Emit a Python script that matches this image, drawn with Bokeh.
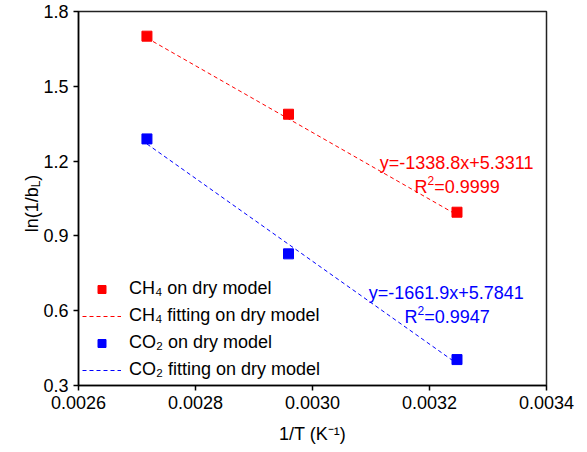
import math
from bokeh.plotting import figure
from bokeh.models import (Label, Legend, LegendItem, FixedTicker,
                          PrintfTickFormatter, Range1d)
from bokeh.embed import file_html
from bokeh.resources import INLINE

# ---------------- data ----------------
inv_T = [0.002717, 0.002959, 0.003247]          # 1/T (K^-1)
ch4_ln = [1.701, 1.388, 0.995]                   # ln(1/bL) CH4 on dry model
co2_ln = [1.289, 0.828, 0.404]                   # ln(1/bL) CO2 on dry model
ch4_slope, ch4_icpt, ch4_r2 = -1338.8, 5.3311, "0.9999"
co2_slope, co2_icpt, co2_r2 = -1661.9, 5.7841, "0.9947"
x_ticks = [0.0026, 0.0028, 0.0030, 0.0032, 0.0034]
y_ticks = [0.3, 0.6, 0.9, 1.2, 1.5, 1.8]
legend_labels = ["CH\u2084 on dry model", "CH\u2084 fitting on dry model",
                 "CO\u2082 on dry model", "CO\u2082 fitting on dry model"]
x_title = "1/T (K\u207b\u00b9)"

RED = "#FF0000"
BLUE = "#0000FF"
FONT = "Liberation Sans"

X0, X1 = 0.0026, 0.0034
Y0, Y1 = 0.3, 1.8
FL, FR, FT, FB = 78, 546, 11, 385   # frame edges in px

p = figure(width=587, height=452, frame_width=FR - FL, frame_height=FB - FT,
           min_border_left=FL, min_border_right=587 - FR, min_border_top=FT,
           min_border_bottom=452 - FB,
           x_range=Range1d(X0, X1), y_range=Range1d(Y0, Y1),
           output_backend="svg", toolbar_location=None)
p.background_fill_color = "white"
p.border_fill_color = "white"
p.grid.visible = False
p.outline_line_color = "#222222"
p.outline_line_width = 1.5

for ax, ticks, fmt in ((p.xaxis[0], x_ticks, "%.4f"), (p.yaxis[0], y_ticks, "%.1f")):
    ax.ticker = FixedTicker(ticks=ticks)
    ax.formatter = PrintfTickFormatter(format=fmt)
    ax.axis_line_color = "black"
    ax.axis_line_width = 1.5
    ax.major_tick_line_color = "black"
    ax.major_tick_line_width = 1.5
    ax.major_tick_out = 5
    ax.major_tick_in = 0
    ax.minor_tick_line_color = None
    ax.major_label_text_font = FONT
    ax.major_label_text_font_size = "18px"
    ax.major_label_text_color = "black"
    ax.major_label_standoff = 5

p.xaxis[0].axis_label = x_title
p.xaxis[0].axis_label_text_font = FONT
p.xaxis[0].axis_label_text_font_size = "18px"
p.xaxis[0].axis_label_text_font_style = "normal"
p.xaxis[0].axis_label_text_color = "black"
p.xaxis[0].axis_label_standoff = 12

# fitted lines
def fit(slope, icpt, xs):
    return [slope * x + icpt for x in xs]

fx = [inv_T[0], inv_T[-1]]
r_ch4_fit = p.line(fx, fit(ch4_slope, ch4_icpt, fx), line_color=RED, line_width=1,
                   line_dash="4 3")
r_co2_fit = p.line(fx, fit(co2_slope, co2_icpt, fx), line_color=BLUE, line_width=1,
                   line_dash="4 3")
r_ch4 = p.scatter(inv_T, ch4_ln, marker="square", size=10, fill_color=RED, line_color=RED)
r_co2 = p.scatter(inv_T, co2_ln, marker="square", size=10, fill_color=BLUE, line_color=BLUE)

legend = Legend(items=[
    LegendItem(label=legend_labels[0], renderers=[r_ch4]),
    LegendItem(label=legend_labels[1], renderers=[r_ch4_fit]),
    LegendItem(label=legend_labels[2], renderers=[r_co2]),
    LegendItem(label=legend_labels[3], renderers=[r_co2_fit]),
], location=(4, 5), padding=0, margin=0, spacing=6,
   glyph_width=39, glyph_height=20, label_height=20, label_standoff=8,
   label_text_font=FONT, label_text_font_size="18px", label_text_color="black",
   border_line_alpha=0, background_fill_alpha=0)
p.add_layout(legend, "center")

# ---------------- composed texts ----------------
W = {c: 556 for c in "0123456789"}
W.update({".": 278, "/": 278, "(": 333, ")": 333, " ": 278, "-": 333, "=": 584,
          "+": 584, "l": 222, "n": 556, "b": 556, "L": 556, "T": 611, "K": 667,
          "R": 722, "y": 500, "x": 500, "C": 722, "H": 722, "O": 778})

def tw(s, size):
    return sum(W.get(c, 556) for c in s) * size / 1000.0

def px2x(px):
    return X0 + (px - FL) / (FR - FL) * (X1 - X0)

def py2y(py):
    return Y1 - (py - FT) / (FB - FT) * (Y1 - Y0)

def compose(pieces, cx, base, color="black", vertical=False):
    # pieces: (text, font px, raise px, layout place)
    total = sum(tw(t, s) for t, s, d, pl in pieces)
    cur = cx - total / 2.0 if not vertical else cx + total / 2.0
    for t, s, d, pl in pieces:
        if not vertical:
            lab = Label(x=px2x(cur), y=py2y(base - d), text=t, text_font=FONT,
                        text_font_size=f"{s}px", text_color=color,
                        text_baseline="alphabetic", text_align="left")
            cur += tw(t, s)
        else:
            lab = Label(x=px2x(base - d), y=py2y(cur), text=t, text_font=FONT,
                        text_font_size=f"{s}px", text_color=color, angle=math.pi / 2,
                        text_baseline="alphabetic", text_align="left")
            cur -= tw(t, s)
        p.add_layout(lab, pl)

# equations (inside the plot area)
compose([(f"y={ch4_slope}x+{ch4_icpt}", 18, 0, "center")], 456.7, 162.5, RED)
compose([("R", 18, 0, "center"), ("2", 12, 7, "center"),
         (f"={ch4_r2}", 18, 0, "center")], 456.7, 186.5, RED)
compose([(f"y={co2_slope}x+{co2_icpt}", 18, 0, "center")], 445.8, 292.5, BLUE)
compose([("R", 18, 0, "center"), ("2", 12, 7, "center"),
         (f"={co2_r2}", 18, 0, "center")], 446.7, 316.5, BLUE)

# y axis title: pieces hosted in the side panels (not clipped by the frame)
compose([("ln(", 18, 0, "left"), ("1/b", 18, 0, "right"), ("L", 12, -4, "right"),
         (")", 18, 0, "left")], 203, 31, vertical=True)

open("out.html", "w").write(file_html(p, INLINE))
